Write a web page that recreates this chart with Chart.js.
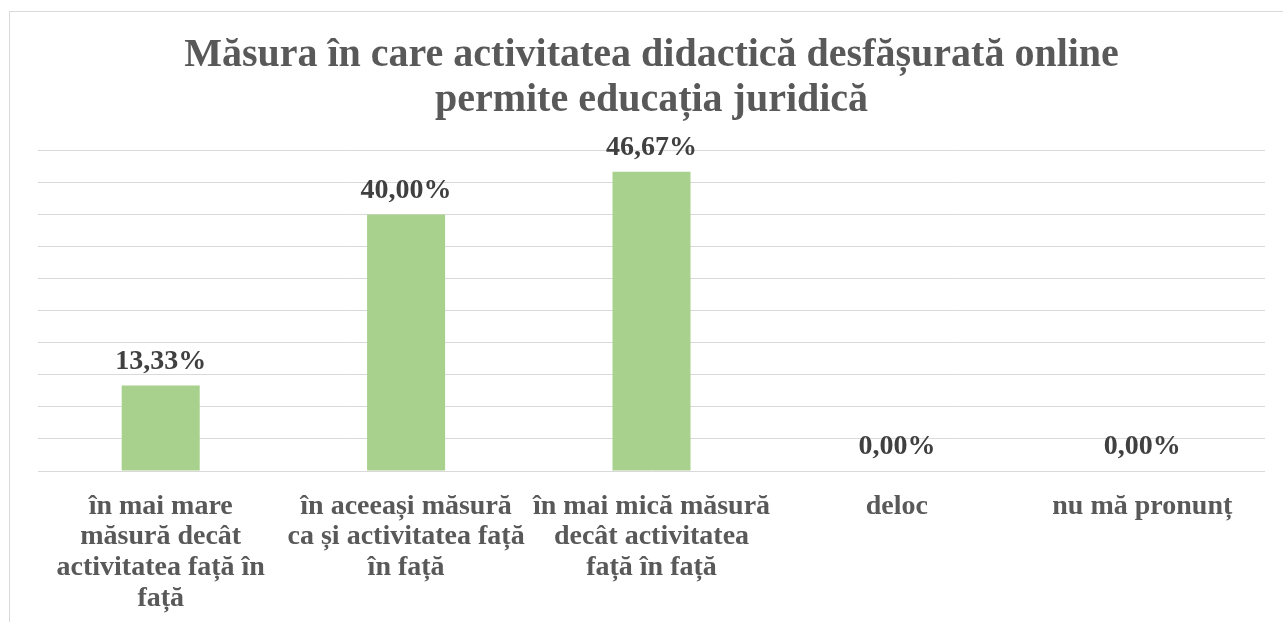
<!DOCTYPE html>
<html>
<head>
<meta charset="utf-8">
<script src="https://cdn.jsdelivr.net/npm/chart.js@4.4.1/dist/chart.umd.min.js"></script>
<style>
  html, body { margin: 0; padding: 0; background: #fff; overflow: hidden; }
  #frame { position: absolute; left: 9px; top: 11px; width: 1300px; height: 700px; border: 1px solid #d9d9d9; }
  #wrap { position: absolute; left: 0; top: 0; width: 1283px; height: 622px; }
</style>
</head>
<body>
<div id="frame"></div>
<div id="wrap"><canvas id="chart"></canvas></div>
<script>
  const titleLines = ["Măsura în care activitatea didactică desfășurată online", "permite educația juridică"];
  const categories = [
    ["în mai mare", "măsură decât", "activitatea față în", "față"],
    ["în aceeași măsură", "ca și activitatea față", "în față"],
    ["în mai mică măsură", "decât activitatea", "față în față"],
    "deloc",
    "nu mă pronunț"
  ];
  const percentages = [13.33, 40.00, 46.67, 0.00, 0.00];

  const FONT = "'Liberation Serif', 'DejaVu Serif', serif";

  // labels above bars, e.g. "40,00%"
  const barLabels = {
    id: 'barLabels',
    afterDatasetsDraw(chart) {
      const ctx = chart.ctx;
      const meta = chart.getDatasetMeta(0);
      ctx.save();
      ctx.font = "bold 28px " + FONT;
      ctx.fillStyle = '#404040';
      ctx.textAlign = 'center';
      ctx.textBaseline = 'alphabetic';
      meta.data.forEach((bar, i) => {
        const txt = percentages[i].toFixed(2).replace('.', ',') + '%';
        ctx.fillText(txt, bar.x, bar.y - 17);
      });
      ctx.restore();
    }
  };

  new Chart(document.getElementById('chart'), {
    type: 'bar',
    data: {
      labels: categories,
      datasets: [{
        data: percentages,
        backgroundColor: '#a9d18e',
        borderWidth: 0,
        categoryPercentage: 1,
        barPercentage: 0.318
      }]
    },
    options: {
      responsive: true,
      maintainAspectRatio: false,
      animation: false,
      layout: { padding: { left: 38, right: 18, top: 0, bottom: 0 } },
      plugins: {
        legend: { display: false },
        tooltip: { enabled: false },
        title: {
          display: true,
          text: titleLines,
          color: '#595959',
          font: { family: FONT, size: 40, weight: 'bold', lineHeight: 1.13 },
          padding: { top: 33, bottom: 27 }
        }
      },
      scales: {
        y: {
          min: 0,
          max: 50,
          ticks: { display: false, stepSize: 5 },
          grid: { color: '#d9d9d9', lineWidth: 1, drawTicks: false },
          border: { display: false }
        },
        x: {
          grid: { display: false, drawTicks: false },
          border: { display: false },
          afterFit(scale) { scale.height = 151; },
          ticks: {
            color: '#595959',
            padding: 20,
            maxRotation: 0,
            autoSkip: false,
            font: { family: FONT, size: 28, weight: 'bold', lineHeight: 1.1 }
          }
        }
      }
    },
    plugins: [barLabels]
  });
</script>
</body>
</html>
